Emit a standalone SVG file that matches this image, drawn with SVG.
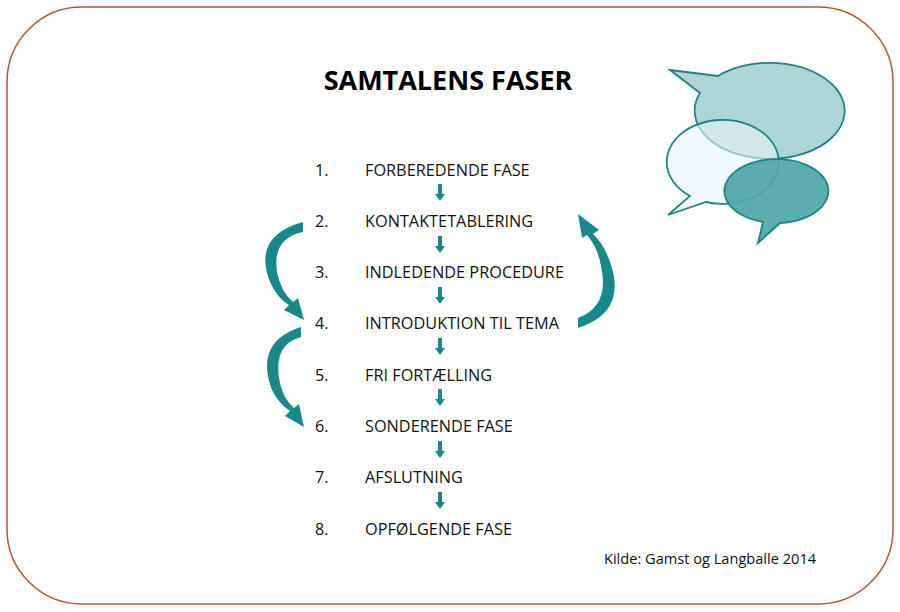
<svg xmlns="http://www.w3.org/2000/svg" width="900" height="612" viewBox="0 0 900 612">
<style>
.t{font-family:"Open Sans","Liberation Sans",sans-serif;font-size:16.3px;fill:#111}
.a{fill:#17898a}
</style>
<defs><path id="dn" d="M-2,-9 H2 V1 H5 L0,8 L-5,1 H-2 Z" class="a"/></defs>
<rect width="900" height="612" fill="#fff"/>
<rect x="7" y="7" width="886" height="597" rx="75" fill="#fff" stroke="#b5562a" stroke-width="1.5"/>
<text x="448" y="90" text-anchor="middle" style="font-family:'Open Sans','Liberation Sans',sans-serif;font-weight:bold;font-size:27px;fill:#000">SAMTALENS FASER</text>
<g id="bubbles" stroke="#1d8384" stroke-width="1.8">
<path d="M670,70 L718,76 A75,48 0 1 1 700,93 Z" fill="#a9d3d3" fill-opacity="0.95"/>
<path d="M668,215 L690,196 A56,42 0 1 1 706,202 Z" fill="#eaf5f6" fill-opacity="0.6"/>
<path d="M758,243 L763,222 A52,32 0 1 1 780,223 Z" fill="#4ea6a6" fill-opacity="0.92"/>
</g>
<g id="steps" class="t">
<text x="315" y="176">1.</text><text x="365" y="176">FORBEREDENDE FASE</text>
<text x="315" y="227">2.</text><text x="365" y="227">KONTAKTETABLERING</text>
<text x="315" y="278">3.</text><text x="365" y="278">INDLEDENDE PROCEDURE</text>
<text x="315" y="329">4.</text><text x="365" y="329">INTRODUKTION TIL TEMA</text>
<text x="315" y="381">5.</text><text x="365" y="381">FRI FORTÆLLING</text>
<text x="315" y="432">6.</text><text x="365" y="432">SONDERENDE FASE</text>
<text x="315" y="483">7.</text><text x="365" y="483">AFSLUTNING</text>
<text x="315" y="535">8.</text><text x="365" y="535">OPFØLGENDE FASE</text>
</g>
<text x="604" y="564" style="font-family:'Open Sans','Liberation Sans',sans-serif;font-size:14.6px;fill:#111">Kilde: Gamst og Langballe 2014</text>
<g id="connectors">
<use href="#dn" x="440" y="193"/>
<use href="#dn" x="440" y="245"/>
<use href="#dn" x="440" y="296"/>
<use href="#dn" x="440" y="347"/>
<use href="#dn" x="440" y="398"/>
<use href="#dn" x="440" y="450"/>
<use href="#dn" x="440" y="501"/>
<path class="a" d="M303,222 Q252,236 270,282 Q277,298 289,305 L284,310 L304,320 L298,298 L293,302 Q281,292 277,272 Q272,238 303,232 Z"/>
<path class="a" d="M301,327 Q254,342 272,390 Q279,404 290,411 L285,416 L304,427 L299,404 L294,408 Q282,398 279,378 Q274,344 301,337 Z"/>
<path class="a" d="M578,328 Q628,312 610,262 Q604,244 593,234 L599,230 L578,214 L582,238 L587,235 Q598,248 601,266 Q610,306 578,318 Z"/>
</g>
</svg>
